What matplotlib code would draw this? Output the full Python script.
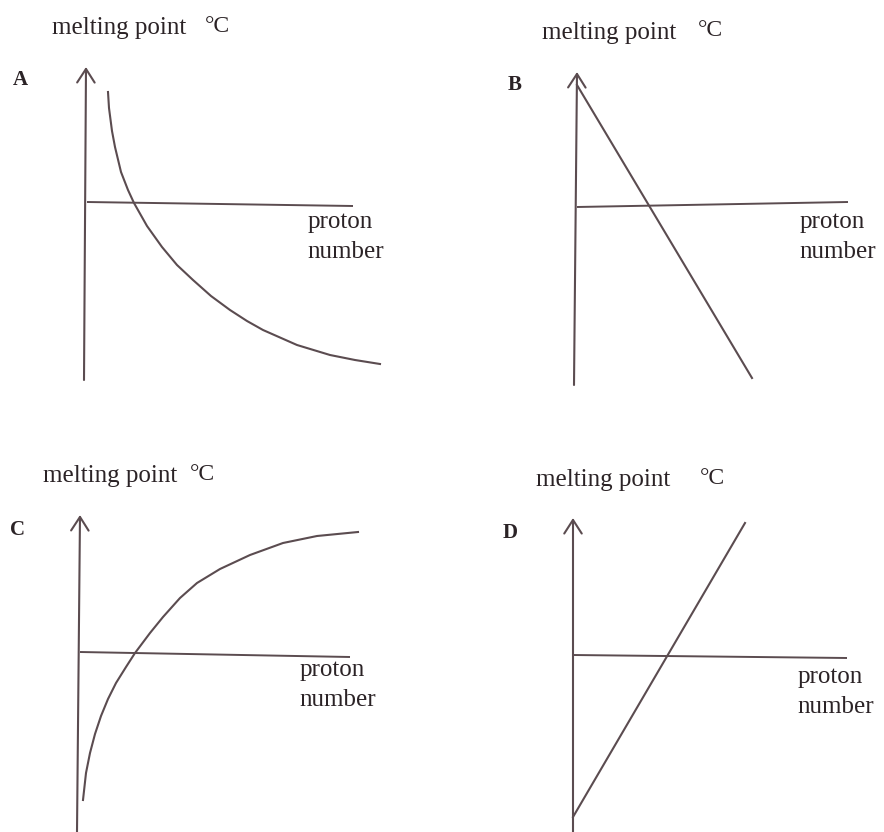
import matplotlib
matplotlib.use("Agg")
import matplotlib.pyplot as plt

# ---- data (sketch values, units relative to the origin of each graph) ----
panel_labels = ["A", "B", "C", "D"]
y_title = "melting point"
deg_unit = "°C"
x_title = ["proton", "number"]

# A: falling curve
curve_a_x = [21, 22, 25, 28, 34, 41, 47, 60, 75, 90, 106, 124, 143, 160, 176, 210, 243, 268, 293]
curve_a_y = [111, 95, 72, 56, 31, 13, 0, -23, -44, -62, -77, -93, -107, -118, -127, -142, -152, -157, -161]
# B: falling straight line
line_b_x = [0, 175]
line_b_y = [121, -172]
# C: rising curve levelling off
curve_c_x = [3, 6, 10, 15, 21, 28, 36, 46, 55, 70, 83, 100, 117, 140, 170, 203, 237, 278]
curve_c_y = [-147, -120, -100, -81, -63, -46, -30, -14, 0, 20, 36, 55, 70, 84, 98, 110, 117, 121]
# D: rising straight line
line_d_x = [0, 172]
line_d_y = [-162, 132]

series_x = [curve_a_x, line_b_x, curve_c_x, line_d_x]
series_y = [curve_a_y, line_b_y, curve_c_y, line_d_y]

# ---- layout (pixels) ----
W, H = 884, 832
ink = "#5b4c50"
text_ink = "#2b2326"
# origin of each graph in image pixels (x, y from top)
origins = [(87, 203), (577, 206), (80, 653), (573, 655)]
# y axis bottom / top, x axis ends (relative to origin)
y_axis = [((-3, -177), (-1, 136)), ((-3, -179), (0, 134)), ((-3, -179), (0, 138)), ((0, -177), (0, 137))]
x_axis = [((0, 1), (266, -3)), ((0, -1), (271, 4)), ((0, 1), (270, -4)), ((0, 0), (274, -3))]
# text anchors (left x, centre y) relative to origin
title_pos = [(-35, 175), (-35, 173), (-37, 177), (-37, 175)]
deg_pos = [(118, 177), (121, 175), (110, 179), (127, 177)]
letter_pos = [(-74, 123), (-69, 121), (-70, 123), (-70, 122)]
xlab_pos = [(221, -19), (223, -16), (220, -17), (225, -22)]

plt.rcParams["font.family"] = ["Liberation Serif", "DejaVu Serif"]

fig = plt.figure(figsize=(W / 100, H / 100), dpi=100)
fig.patch.set_facecolor("white")

quads = [(0, 0), (442, 0), (0, 416), (442, 416)]
qw, qh = 442, 416

for i in range(4):
    qx, qy = quads[i]
    ox, oy = origins[i]
    ax = fig.add_axes([qx / W, (H - qy - qh) / H, qw / W, qh / H])
    ax.set_xlim(qx - ox, qx + qw - ox)
    ax.set_ylim(oy - (qy + qh), oy - qy)
    ax.axis("off")

    # y axis with open arrow head
    (bx, by), (tx, ty) = y_axis[i]
    ax.annotate("", xy=(tx, ty), xytext=(bx, by),
                arrowprops=dict(arrowstyle="->,head_length=0.7,head_width=0.45",
                                color=ink, lw=1.5, mutation_scale=14,
                                shrinkA=0, shrinkB=0))
    # x axis (plain line)
    (x0, y0), (x1, y1) = x_axis[i]
    ax.plot([x0, x1], [y0, y1], color=ink, lw=1.4, solid_capstyle="butt")

    # graph
    ax.plot(series_x[i], series_y[i], color=ink, lw=1.5, solid_joinstyle="round")

    # text
    ax.text(*title_pos[i], y_title, fontsize=18, color=text_ink, va="center", ha="left")
    ax.text(*deg_pos[i], deg_unit, fontsize=17, color=text_ink, va="center", ha="left")
    ax.text(*letter_pos[i], panel_labels[i], fontsize=15, fontweight="bold",
            color=text_ink, va="center", ha="left")
    ax.text(xlab_pos[i][0], xlab_pos[i][1], x_title[0], fontsize=18, color=text_ink,
            va="center", ha="left")
    ax.text(xlab_pos[i][0] - 1, xlab_pos[i][1] - 30, x_title[1], fontsize=18,
            color=text_ink, va="center", ha="left")

fig.savefig("out.png", dpi=100, facecolor="white")
